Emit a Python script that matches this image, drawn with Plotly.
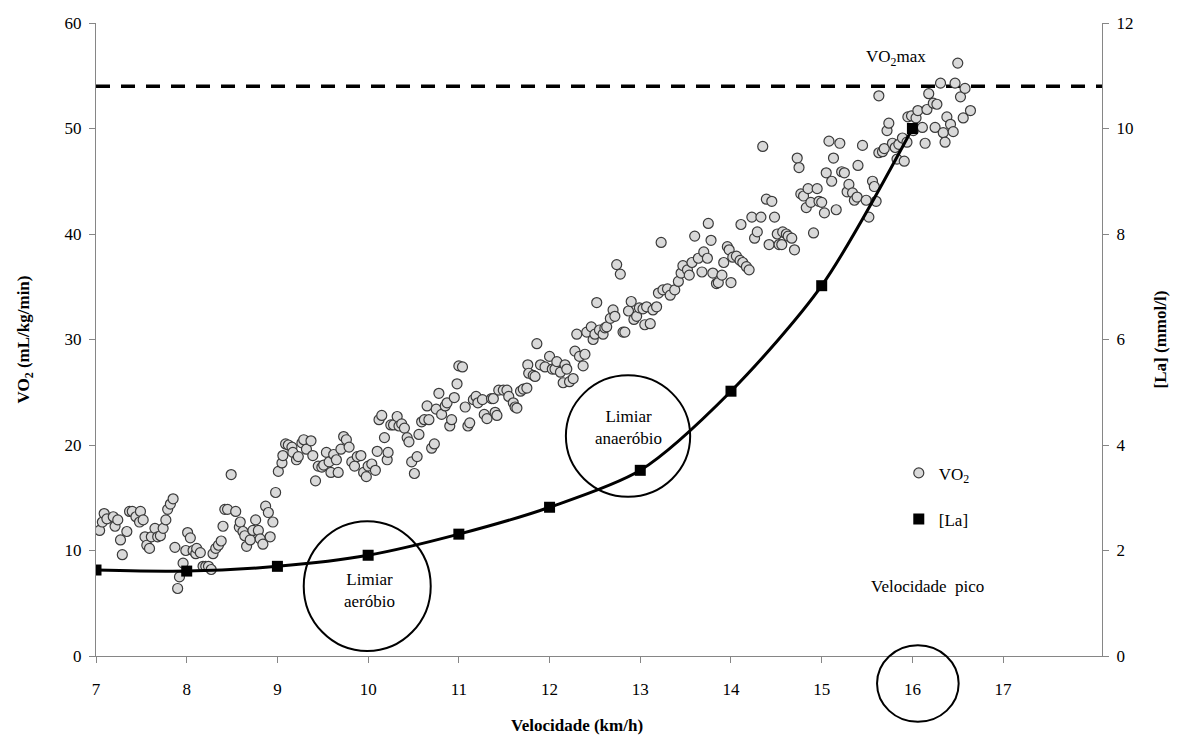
import plotly.graph_objects as go

# ---------------- data ----------------
speed_ticks = list(range(7, 18))
X_RANGE = [7, 18.09]
VO2_RANGE = [0, 60]
LA_RANGE = [0, 12]
vo2_max_value = 54

vo2_speed = [
    7.04, 7.07, 7.09, 7.12, 7.19, 7.21, 7.24, 7.27, 7.29, 7.34, 7.37, 7.40, 7.44, 7.48, 7.49, 7.52,
    7.54, 7.56, 7.59, 7.61, 7.65, 7.68, 7.71, 7.74, 7.77, 7.79, 7.82, 7.85, 7.87, 7.92, 7.90, 7.96,
    7.99, 8.01, 8.04, 8.07, 8.10, 8.11, 8.15, 8.18, 8.21, 8.24, 8.27, 8.29, 8.32, 8.35, 8.38, 8.40,
    8.42, 8.45, 8.49, 8.54, 8.58, 8.59, 8.62, 8.64, 8.66, 8.70, 8.73, 8.76, 8.79, 8.81, 8.84, 8.87,
    8.90, 8.92, 8.95, 8.98, 9.01,
    9.05, 9.06, 9.09, 9.12, 9.16, 9.17, 9.21, 9.23, 9.27, 9.29, 9.32, 9.37, 9.39, 9.42, 9.45, 9.49,
    9.51, 9.54, 9.57, 9.59, 9.62, 9.65, 9.67, 9.70, 9.73, 9.76, 9.79, 9.82, 9.85, 9.88, 9.92, 9.95,
    9.98, 10.00, 10.04, 10.08, 10.10, 10.12, 10.15, 10.18, 10.21, 10.22, 10.25, 10.28, 10.32, 10.34,
    10.37, 10.40, 10.43, 10.45, 10.48, 10.51, 10.54, 10.56, 10.59, 10.62, 10.65, 10.67, 10.70, 10.73,
    10.75, 10.78, 10.81, 10.85, 10.87, 10.90, 10.92, 10.95, 10.98, 11.00, 11.04, 11.07, 11.10, 11.12,
    11.16, 11.19, 11.21, 11.26, 11.28, 11.31, 11.36, 11.38, 11.40, 11.42, 11.44, 11.49, 11.53, 11.55,
    11.60, 11.62, 11.64, 11.68, 11.71, 11.75, 11.76, 11.77,
    11.82, 11.84, 11.86, 11.90, 11.95, 12.00, 12.03, 12.06, 12.08, 12.12, 12.15, 12.17, 12.19, 12.22,
    12.26, 12.28, 12.30, 12.33, 12.37, 12.39, 12.41, 12.46, 12.48, 12.50, 12.52, 12.55, 12.59, 12.61,
    12.63, 12.67, 12.70, 12.72, 12.74, 12.78, 12.81, 12.83, 12.87, 12.90, 12.93, 12.96, 12.99, 13.03,
    13.05, 13.07, 13.11, 13.14, 13.18, 13.20, 13.23, 13.25,
    13.30, 13.33, 13.38, 13.42, 13.45, 13.47, 13.52, 13.54, 13.57, 13.60, 13.64, 13.68, 13.70, 13.74,
    13.75, 13.78, 13.80, 13.84, 13.86, 13.90, 13.92, 13.96, 13.98, 14.00, 14.02, 14.06, 14.10, 14.11,
    14.13, 14.17, 14.20, 14.23, 14.26, 14.29, 14.33, 14.35, 14.39, 14.42, 14.45, 14.48, 14.51, 14.53,
    14.56, 14.57, 14.61, 14.63, 14.67, 14.70, 14.73, 14.75, 14.77, 14.80, 14.83, 14.85, 14.88, 14.91,
    14.95, 14.97, 15.00, 15.03, 15.05, 15.08, 15.11, 15.13, 15.16, 15.20, 15.22, 15.25, 15.28, 15.30,
    15.34, 15.36, 15.39, 15.40, 15.45, 15.49, 15.52, 15.56, 15.58, 15.60, 15.63,
    15.63, 15.67, 15.69, 15.72, 15.74, 15.78, 15.81, 15.83, 15.85, 15.89, 15.91, 15.94, 15.95, 15.99,
    16.01, 16.04, 16.06, 16.11, 16.14, 16.16, 16.18, 16.23, 16.27, 16.25, 16.31, 16.34, 16.36, 16.38,
    16.42, 16.45, 16.47, 16.53, 16.56, 16.58, 16.64, 16.50,
]

vo2_value = [
    11.9, 12.7, 13.5, 13.0, 13.2, 12.3, 12.9, 11.0, 9.6, 11.8, 13.7, 13.7, 13.2, 12.7, 13.7, 12.9,
    11.3, 10.5, 10.2, 11.3, 12.1, 11.3, 11.4, 12.1, 12.9, 13.9, 14.4, 14.9, 10.3, 7.5, 6.4, 8.8,
    10.0, 11.7, 11.2, 10.0, 9.7, 10.2, 9.8, 8.5, 8.5, 8.5, 8.2, 9.7, 10.2, 10.5, 10.9, 12.3,
    13.9, 13.9, 17.2, 13.7, 12.2, 12.7, 11.8, 11.4, 10.4, 11.0, 11.9, 12.9, 11.9, 11.1, 10.6, 14.2,
    13.6, 11.3, 12.7, 15.5, 17.5,
    18.3, 19.0, 20.1, 20.0, 19.8, 19.3, 18.6, 18.9, 20.2, 20.5, 19.6, 20.4, 19.0, 16.6, 18.0, 17.9,
    18.1, 19.3, 18.4, 17.4, 19.1, 18.6, 17.4, 19.6, 20.8, 20.5, 19.8, 18.4, 18.0, 18.9, 19.0, 17.4,
    17.0, 18.0, 18.2, 17.6, 19.4, 22.4, 22.8, 20.7, 18.6, 19.3, 21.9, 21.9, 22.7, 21.8,
    22.0, 21.6, 20.7, 20.3, 18.4, 17.3, 18.9, 21.0, 22.2, 22.4, 23.7, 22.4, 19.7, 20.1,
    23.4, 24.9, 22.9, 23.7, 24.0, 21.8, 22.4, 24.5, 25.8, 27.5, 27.4, 23.6, 21.8, 22.1,
    24.3, 24.6, 24.0, 24.3, 22.9, 22.5, 24.4, 24.4, 23.1, 22.8, 25.2, 25.2, 25.2, 24.6,
    24.0, 23.6, 23.5, 25.1, 25.3, 25.4, 27.6, 26.8,
    26.6, 26.5, 29.6, 27.6, 27.4, 28.4, 27.2, 27.2, 27.9, 26.9, 25.9, 27.6, 27.2, 26.0,
    26.3, 28.9, 30.5, 28.4, 27.5, 28.6, 30.7, 31.2, 30.0, 30.5, 33.5, 30.9, 30.5, 31.1,
    31.2, 32.0, 32.8, 32.2, 37.1, 36.2, 30.7, 30.7, 32.7, 33.6, 31.9, 32.2, 33.0, 32.9,
    31.4, 33.1, 31.5, 32.8, 33.1, 34.4, 39.2, 34.7,
    34.8, 34.2, 34.7, 35.5, 36.3, 37.0, 36.6, 36.1, 37.3, 39.8, 37.7, 36.4, 38.3, 37.7,
    41.0, 39.4, 36.3, 35.3, 35.4, 36.1, 37.3, 38.8, 38.5, 35.4, 37.8, 37.9, 37.5, 40.9,
    37.3, 36.9, 36.6, 41.6, 39.6, 40.2, 41.6, 48.3, 43.3, 39.0, 43.1, 41.6, 40.0, 39.0,
    39.0, 40.2, 40.0, 39.8, 39.6, 38.5, 47.2, 46.3, 43.8, 43.6, 42.5, 44.3, 43.0, 40.1,
    44.3, 43.1, 43.0, 42.0, 45.8, 48.8, 45.0, 47.2, 42.3, 48.6, 45.9, 45.8, 44.0, 44.7,
    43.9, 43.2, 43.5, 46.5, 48.4, 43.2, 41.6, 45.0, 44.5, 43.1, 47.7,
    53.1, 47.8, 48.1, 49.8, 50.5, 48.6, 48.2, 47.1, 48.5, 49.1, 46.9, 48.7, 51.1, 51.2,
    49.8, 51.0, 51.7, 50.1, 48.6, 51.8, 53.3, 52.4, 52.3, 50.1, 54.3, 49.6, 48.7, 51.1,
    50.4, 49.7, 54.3, 53.0, 51.0, 53.8, 51.7, 56.2,
]

la_speed = [7, 8, 9, 10, 11, 12, 13, 14, 15, 16]
la_value = [1.63, 1.61, 1.70, 1.91, 2.31, 2.82, 3.52, 5.02, 7.02, 10.0]

FONT = "Liberation Serif, Times New Roman, serif"
AXIS_GREY = "#868686"


def xpaper(v):
    return (v - X_RANGE[0]) / (X_RANGE[1] - X_RANGE[0])


fig = go.Figure()

fig.add_trace(go.Scatter(
    x=vo2_speed, y=vo2_value, mode="markers", name="VO<sub>2</sub>",
    legendgroup="vo2",
    marker=dict(size=10, color="#d9d9d9", line=dict(color="#3a3a3a", width=1.2)),
))
fig.add_trace(go.Scatter(
    x=la_speed, y=la_value, mode="lines", yaxis="y2", showlegend=False,
    line=dict(shape="spline", smoothing=0.8, color="black", width=3),
    hoverinfo="skip",
))
fig.add_trace(go.Scatter(
    x=la_speed, y=la_value, mode="markers", yaxis="y2", name="[La]",
    legendgroup="la",
    marker=dict(symbol="square", size=11, color="black"),
))

shapes = [
    dict(type="line", xref="paper", x0=0, x1=1, yref="y", y0=vo2_max_value, y1=vo2_max_value,
         line=dict(color="black", width=3.5, dash="14px,11px"), layer="below"),
    dict(type="circle", xref="x", yref="y", x0=9.29, x1=10.69, y0=0.47, y1=12.77,
         line=dict(color="black", width=2)),
    dict(type="circle", xref="x", yref="y", x0=12.18, x1=13.55, y0=15.1, y1=26.6,
         line=dict(color="black", width=2)),
    dict(type="circle", xref="paper", yref="paper", x0=xpaper(15.61), x1=xpaper(16.51),
         y0=-0.104, y1=0.017, line=dict(color="black", width=2)),
]

annotations = [
    dict(x=15.82, y=56.7, xref="x", yref="y", text="VO<sub>2</sub>max", showarrow=False,
         font=dict(size=17)),
    dict(x=16.17, y=6.6, xref="x", yref="y", text="Velocidade  pico", showarrow=False,
         font=dict(size=17)),
    dict(x=10.01, y=6.2, xref="x", yref="y", text="Limiar<br>aeróbio", showarrow=False,
         font=dict(size=17)),
    dict(x=12.87, y=21.7, xref="x", yref="y", text="Limiar<br>anaeróbio", showarrow=False,
         font=dict(size=17)),
    dict(x=xpaper(12.3), y=-0.110, xref="paper", yref="paper", yanchor="middle",
         text="<b>Velocidade (km/h)</b>", showarrow=False, font=dict(size=17)),
]

axis_common = dict(
    showline=True, linecolor=AXIS_GREY, linewidth=1, ticks="outside", ticklen=6,
    tickcolor=AXIS_GREY, showgrid=False, zeroline=False, tickfont=dict(size=17, color="black"),
)

fig.update_layout(
    width=1178, height=737,
    margin=dict(l=96, r=76, t=23, b=81),
    plot_bgcolor="white", paper_bgcolor="white",
    font=dict(family=FONT, size=17, color="black"),
    xaxis=dict(range=X_RANGE, tickvals=speed_ticks, ticklabelstandoff=12, **axis_common),
    yaxis=dict(range=VO2_RANGE, dtick=10, ticklabelstandoff=4,
               title=dict(text="<b>VO<sub>2</sub> (mL/kg/min)</b>", standoff=30, font=dict(size=17)),
               **axis_common),
    yaxis2=dict(range=LA_RANGE, dtick=2, overlaying="y", side="right", ticklabelstandoff=4,
                title=dict(text="<b>[La] (mmol/l)</b>", standoff=21, font=dict(size=17)),
                **axis_common),
    legend=dict(x=0.798, y=0.317, xanchor="left", yanchor="top", tracegroupgap=21,
                bgcolor="rgba(0,0,0,0)", font=dict(size=17)),
    shapes=shapes,
    annotations=annotations,
    showlegend=True,
)

fig.write_html("out.html", config={"displayModeBar": False},
               post_script="document.body.style.margin='0';")
